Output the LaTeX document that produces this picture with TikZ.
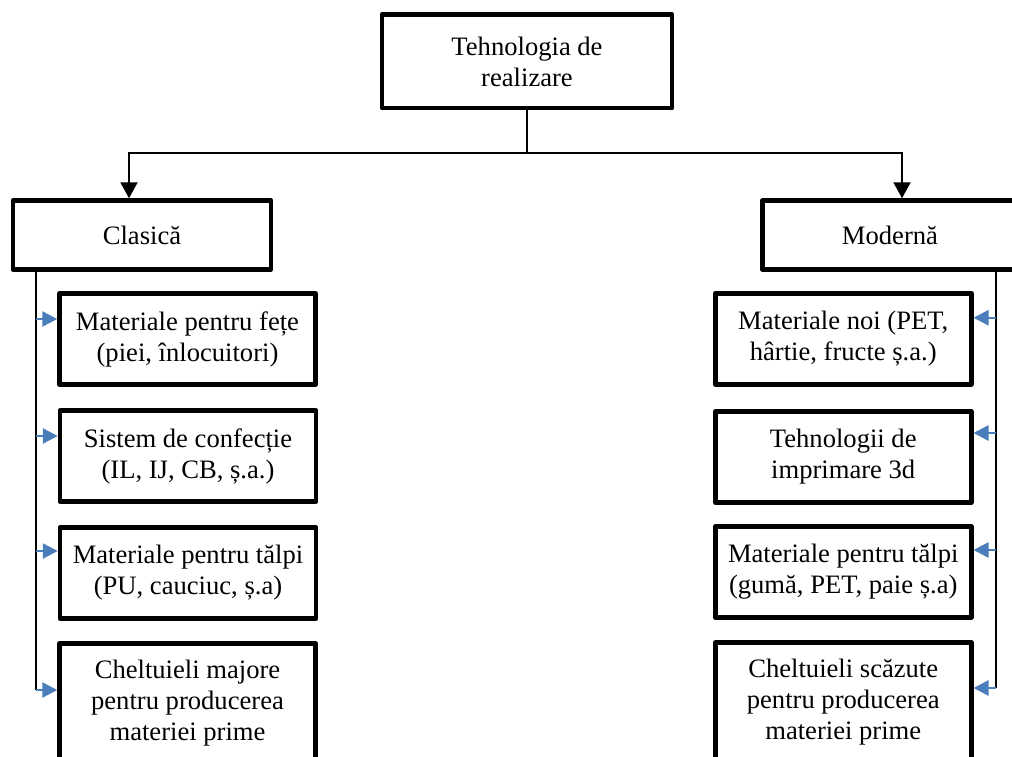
\documentclass[tikz,border=0pt]{standalone}
\usepackage{fontspec}
\setmainfont{Liberation Serif}
\usetikzlibrary{arrows.meta,calc}
\definecolor{arrblue}{RGB}{74,126,187}
\begin{document}
\begin{tikzpicture}[x=1pt,y=-1pt,
  box/.style={draw,line width=4.5pt,line join=round,minimum width=256pt,minimum height=91pt,
    inner sep=0pt,align=center,font=\fontsize{26.6}{31}\selectfont},
  conn/.style={line width=2pt},
  karr/.style={conn,-{Triangle[length=16pt,width=17pt]}},
  barr/.style={draw=arrblue,line width=2.5pt,-{Triangle[length=15pt,width=15pt]}}]
\useasboundingbox (0,0) rectangle (1012,757);
\clip (0,0) rectangle (1012,757);

\node[box,minimum width=290pt,minimum height=93.5pt] (top) at (527,61.5) {Tehnologia de\\realizare};
\node[box,minimum width=258pt,minimum height=69pt] (cl) at (142,235) {Clasică};
\node[box,minimum width=255pt,minimum height=69pt] (mo) at (890,235) {Modernă};

\node[box] (l1) at (187.5,339) {Materiale pentru fețe\\(piei, înlocuitori)};
\node[box] (l2) at (188,456) {Sistem de confecție\\(IL, IJ, CB, ș.a.)};
\node[box] (l3) at (188,573) {Materiale pentru tălpi\\(PU, cauciuc, ș.a)};
\node[box,minimum height=119pt] (l4) at (187.5,703) {Cheltuieli majore\\pentru producerea\\materiei prime};

\node[box] (r1) at (843.25,338.75) {Materiale noi (PET,\\hârtie, fructe ș.a.)};
\node[box] (r2) at (843.25,457) {Tehnologii de\\imprimare 3d};
\node[box] (r3) at (843.25,572) {Materiale pentru tălpi\\(gumă, PET, paie ș.a)};
\node[box,minimum height=119pt] (r4) at (843.25,702) {Cheltuieli scăzute\\pentru producerea\\materiei prime};

\coordinate (j) at (527,153);
\coordinate (jl) at (129,153);
\coordinate (jr) at (902,153);
\draw[conn] (top.south) -- (j);
\draw[karr] (j) -- (jl) -- (jl |- cl.north);
\draw[karr] (j) -- (jr) -- (jr |- mo.north);

\coordinate (lx) at (35.5,0);
\coordinate (rx) at (996,0);
\coordinate (a1) at ([yshift=20pt]l1.west);
\coordinate (a2) at ([yshift=20pt]l2.west);
\coordinate (a3) at ([yshift=22pt]l3.west);
\coordinate (a4) at ([yshift=13pt]l4.west);
\coordinate (b1) at ([yshift=21pt]r1.east);
\coordinate (b2) at ([yshift=24pt]r2.east);
\coordinate (b3) at ([yshift=22pt]r3.east);
\coordinate (b4) at ([yshift=14pt]r4.east);

\draw[conn] (cl.south -| lx) -- (a4 -| lx);
\draw[conn] (mo.south -| rx) -- (b4 -| rx);
\foreach \p in {a1,a2,a3,a4} \draw[barr] (\p -| lx) -- (\p);
\foreach \p in {b1,b2,b3,b4} \draw[barr] (\p -| rx) -- (\p);
\end{tikzpicture}
\end{document}
